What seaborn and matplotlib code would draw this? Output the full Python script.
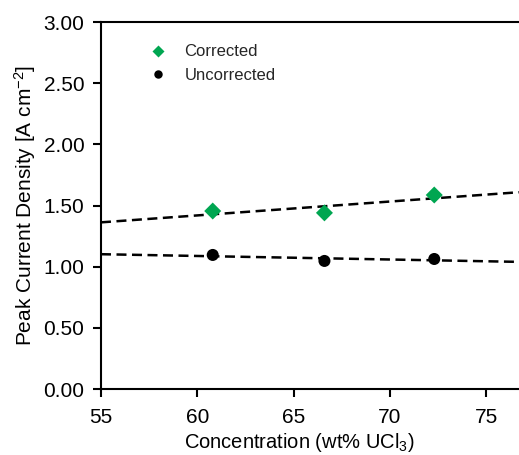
import numpy as np
import pandas as pd
import matplotlib
matplotlib.use("Agg")
import matplotlib.pyplot as plt
import seaborn as sns

conc = [60.8, 66.6, 72.3]
corrected = [1.455, 1.440, 1.586]
uncorrected = [1.096, 1.047, 1.063]
series_names = ["Corrected", "Uncorrected"]
xticks = [55, 60, 65, 70, 75]
yticks = [0.0, 0.5, 1.0, 1.5, 2.0, 2.5, 3.0]

sns.set_theme(style="white")
plt.rcParams["font.family"] = ["Liberation Sans", "DejaVu Sans"]
plt.rcParams["mathtext.default"] = "regular"

df = pd.DataFrame({
    "conc": conc * 2,
    "value": corrected + uncorrected,
    "series": [series_names[0]] * 3 + [series_names[1]] * 3,
})

fig = plt.figure(figsize=(5.19, 4.55), dpi=100)
ax = fig.add_axes([0.1946, 0.145, 0.8054, 0.8066])
ax.set_xlim(55, 76.7)
ax.set_ylim(0, 3.0)

for name in series_names:
    sub = df[df.series == name]
    sns.regplot(data=sub, x="conc", y="value", scatter=False, ci=None,
                truncate=False, ax=ax,
                line_kws=dict(color="black", lw=1.8, ls=(0, (4, 2.2))))

sns.scatterplot(data=df, x="conc", y="value", hue="series", style="series",
                markers={"Corrected": "D", "Uncorrected": "o"},
                palette={"Corrected": "#00a651", "Uncorrected": "black"},
                s=75, edgecolor="none", ax=ax, zorder=5)

ax.set_xlim(55, 76.7)
ax.set_ylim(0, 3.0)
ax.set_xticks(xticks)
ax.set_yticks(yticks)
ax.set_yticklabels([f"{v:.2f}" for v in yticks])
ax.tick_params(axis="both", direction="out", length=6, width=1.5,
               labelsize=15, color="black", labelcolor="black",
               bottom=True, left=True)
ax.tick_params(axis="y", pad=6)
ax.tick_params(axis="x", pad=8)
ax.set_xlabel("Concentration (wt% UCl$_3$)", fontsize=14.5, color="black")
ax.xaxis.set_label_coords(0.475, -0.115, transform=ax.transAxes)
ax.xaxis.label.set_va("top")
ax.set_ylabel("Peak Current Density [A cm$^{-2}$]", fontsize=15, color="black", labelpad=4)

for side in ["left", "bottom", "top"]:
    ax.spines[side].set_visible(True)
    ax.spines[side].set_color("black")
    ax.spines[side].set_linewidth(1.5)
ax.spines["right"].set_visible(False)

leg = ax.legend(loc="upper left", bbox_to_anchor=(0.06, 0.98), frameon=False,
                fontsize=12, markerscale=0.7, handletextpad=0.6, labelspacing=0.5,
                title=None)

fig.savefig("out.png", dpi=100)
